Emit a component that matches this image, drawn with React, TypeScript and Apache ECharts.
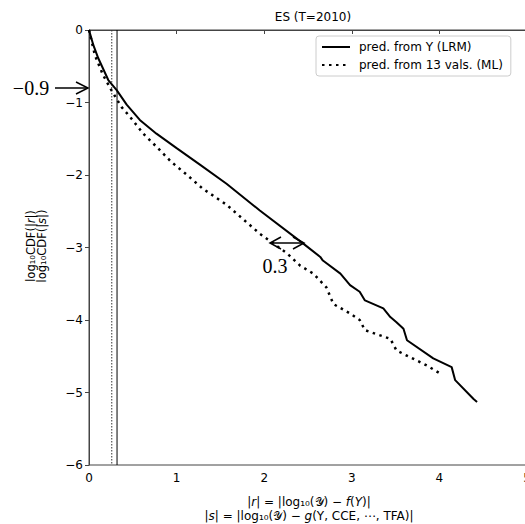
import React, { useEffect, useRef } from "react";
import * as echarts from "echarts";

const titleText = "ES (T=2010)";
const seriesNames = ["pred. from Y (LRM)", "pred. from 13 vals. (ML)"];

const lrmX = [0, 0.05, 0.106, 0.22, 0.316, 0.43, 0.58, 0.77, 1.0, 1.27, 1.57, 1.95, 2.45, 2.64, 2.67, 2.87, 2.98, 3.09, 3.15, 3.36, 3.44, 3.51, 3.59, 3.63, 3.93, 4.14, 4.18, 4.39, 4.43];
const lrmY = [0, -0.21, -0.39, -0.69, -0.83, -1.03, -1.24, -1.43, -1.63, -1.86, -2.12, -2.49, -2.95, -3.13, -3.18, -3.36, -3.52, -3.61, -3.73, -3.84, -3.96, -4.03, -4.12, -4.28, -4.53, -4.65, -4.83, -5.09, -5.13];

const mlX = [0, 0.068, 0.16, 0.26, 0.37, 0.47, 0.62, 0.77, 0.94, 1.12, 1.3, 1.57, 1.95, 2.26, 2.41, 2.56, 2.71, 2.79, 2.98, 3.09, 3.15, 3.44, 3.51, 3.66, 3.86, 4.01];
const mlY = [0, -0.35, -0.62, -0.84, -1.06, -1.2, -1.43, -1.61, -1.82, -2.0, -2.19, -2.41, -2.81, -3.08, -3.25, -3.36, -3.55, -3.78, -3.91, -4.0, -4.14, -4.26, -4.42, -4.51, -4.63, -4.74];

const vSolidX = 0.32;
const vDottedX = 0.26;

const xMin = 0, xMax = 5, yMin = -6, yMax = 0;

const FONT = "DejaVu Sans";
const SERIF = "Liberation Serif";

const fmtMinus = (v: number) => (v < 0 ? "\u2212" + Math.abs(v) : String(v));

export default function App() {
  const ref = useRef<HTMLDivElement>(null);
  useEffect(() => {
    if (!ref.current) return;
    const chart = echarts.init(ref.current, undefined, { renderer: "svg" });
    const lrm = lrmX.map((x, i) => [x, lrmY[i]]);
    const ml = mlX.map((x, i) => [x, mlY[i]]);
    chart.setOption({
      animation: false,
      backgroundColor: "#fff",
      title: {
        text: titleText,
        left: 308,
        top: 6,
        textAlign: "center",
        textStyle: { fontFamily: FONT, fontSize: 12, fontWeight: "normal", color: "#000" },
      },
      legend: {
        data: seriesNames,
        orient: "vertical",
        left: 316,
        top: 36,
        padding: [5, 8, 5, 5],
        itemWidth: 28,
        itemHeight: 12,
        itemGap: 6,
        borderColor: "#ccc",
        borderWidth: 1,
        borderRadius: 3,
        backgroundColor: "#fff",
        itemStyle: { opacity: 0 },
        textStyle: { fontFamily: FONT, fontSize: 12, color: "#000", padding: [0, 0, 0, 4] },
      },
      grid: {
        left: 89,
        top: 30,
        width: 438,
        height: 435,
        containLabel: false,
        outerBoundsMode: "none",
        show: true,
        borderColor: "#444",
        borderWidth: 1,
        backgroundColor: "transparent",
      },
      xAxis: {
        type: "value",
        min: xMin,
        max: xMax,
        interval: 1,
        splitLine: { show: false },
        axisLine: { show: true, lineStyle: { color: "#444", width: 1 } },
        axisTick: { show: true, length: 4, lineStyle: { color: "#444" } },
        axisLabel: { fontFamily: FONT, fontSize: 12, color: "#000", margin: 7 },
      },
      yAxis: {
        type: "value",
        min: yMin,
        max: yMax,
        interval: 1,
        splitLine: { show: false },
        axisLine: { show: true, lineStyle: { color: "#444", width: 1 } },
        axisTick: { show: true, length: 4, lineStyle: { color: "#444" } },
        axisLabel: { fontFamily: FONT, fontSize: 12, color: "#000", margin: 6, formatter: fmtMinus },
      },
      series: [
        {
          name: seriesNames[0],
          type: "line",
          data: lrm,
          showSymbol: false,
          symbol: "none",
          lineStyle: { color: "#000", width: 2 },
          itemStyle: { color: "#000" },
          z: 5,
        },
        {
          name: seriesNames[1],
          type: "line",
          data: ml,
          showSymbol: false,
          symbol: "none",
          lineStyle: { color: "#000", width: 2.5, type: [2.5, 4.5] },
          itemStyle: { color: "#000" },
          z: 5,
        },
        {
          name: "vsolid",
          type: "line",
          data: [[vSolidX, yMax], [vSolidX, yMin]],
          symbol: "none",
          lineStyle: { color: "#000", width: 1 },
          z: 3,
        },
        {
          name: "vdotted",
          type: "line",
          data: [[vDottedX, yMax], [vDottedX, yMin]],
          symbol: "none",
          lineStyle: { color: "#333", width: 1, type: [1.5, 1.5] },
          z: 3,
        },
      ],
      graphic: [
        {
          type: "text",
          x: 36,
          y: 246,
          rotation: Math.PI / 2,
          style: {
            text: "log\u2081\u2080CDF(|{i|r}|)\nlog\u2081\u2080CDF(|{i|s}|)",
            fontFamily: FONT,
            fontSize: 11.5,
            lineHeight: 11,
            fill: "#000",
            align: "center",
            verticalAlign: "middle",
            rich: { i: { fontStyle: "italic", fontFamily: FONT, fontSize: 11.5, lineHeight: 11, fill: "#000" } },
          },
        },
        {
          type: "text",
          x: 309,
          y: 509,
          style: {
            text: "|{i|r}| = |log\u2081\u2080(\ud835\udcb4) \u2212 {i|f}({i|Y})|\n|{i|s}| = |log\u2081\u2080(\ud835\udcb4) \u2212 {i|g}(Y, CCE, \u22ef, TFA)|",
            fontFamily: FONT,
            fontSize: 12,
            lineHeight: 14,
            fill: "#000",
            align: "center",
            verticalAlign: "middle",
            rich: { i: { fontStyle: "italic", fontFamily: FONT, fontSize: 12, lineHeight: 14, fill: "#000" } },
          },
        },
        // -0.9 annotation
        {
          type: "text",
          x: 31,
          y: 88,
          style: { text: "\u22120.9", fontFamily: SERIF, fontSize: 20, fill: "#000", align: "center", verticalAlign: "middle" },
        },
        { type: "line", shape: { x1: 55, y1: 88, x2: 88, y2: 88 }, style: { stroke: "#000", lineWidth: 1.5 } },
        { type: "polyline", shape: { points: [[76, 82], [88, 88], [76, 94]] }, style: { stroke: "#000", lineWidth: 1.5, fill: null } },
        // 0.3 double arrow
        { type: "line", shape: { x1: 270, y1: 243, x2: 304, y2: 243 }, style: { stroke: "#000", lineWidth: 1.5 } },
        { type: "polyline", shape: { points: [[281, 237], [270, 243], [281, 249]] }, style: { stroke: "#000", lineWidth: 1.5, fill: null } },
        { type: "polyline", shape: { points: [[293, 237], [304, 243], [293, 249]] }, style: { stroke: "#000", lineWidth: 1.5, fill: null } },
        {
          type: "text",
          x: 275,
          y: 266,
          style: { text: "0.3", fontFamily: SERIF, fontSize: 20, fill: "#000", align: "center", verticalAlign: "middle" },
        },
      ],
    });
    return () => chart.dispose();
  }, []);
  return <div ref={ref} style={{ width: 525, height: 524, position: "absolute", left: 0, top: 0 }} />;
}
